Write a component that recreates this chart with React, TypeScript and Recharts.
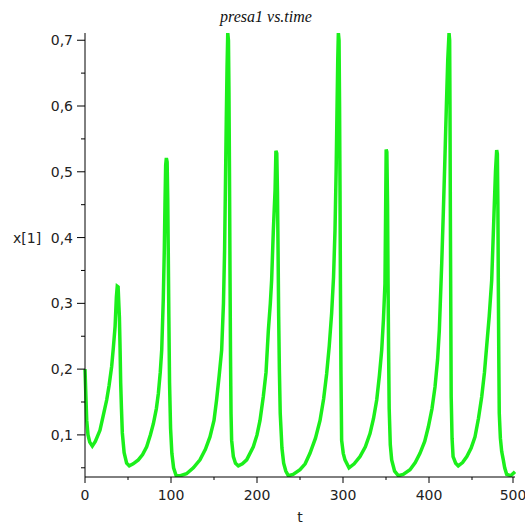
import { LineChart, Line, XAxis, YAxis } from 'recharts';

// time samples (t) and prey values x[1]
const time = [
  0, 1, 2, 3.5, 5.5, 8.5, 12, 17.4, 21, 25.2, 28, 31, 33, 35, 36.5, 37.5, 38.5, 39.3, 40, 40.8,
  41.5, 42.4, 43.4, 45.5, 48.4, 51.5,
  56, 62, 67, 71.7, 76, 79.5, 83, 85.3, 87.5, 89.2, 91, 92.2, 93, 93.8, 94.6, 95.5, 96.2, 96.8,
  97.5, 98.3, 99.5, 101, 103, 106,
  111, 118, 126, 133.7, 140, 145.3, 150, 153, 156, 158.9, 161, 162.3, 163.3, 164.3, 165.2, 166,
  166.8, 167.4, 168, 168.6, 169.2, 169.8, 170.5, 172.5, 175, 178.3,
  183, 188, 195.7, 200, 203.5, 207.3, 210.5, 213.2, 215.5, 217, 219, 221, 222, 223, 223.8, 224.5,
  225.2, 226, 227, 229, 231, 233.5, 236.4,
  242, 250, 256, 261.6, 268, 273.3, 277.5, 281, 284, 286.8, 289, 290.7, 292, 293, 293.9, 294.6,
  295.4, 296, 296.5, 297, 297.6, 298.4, 300.3, 302.3, 307,
  313, 319.8, 326, 331.4, 335.5, 339.2, 342.3, 345, 347, 348.8, 349.5, 350.2, 351, 351.8, 352.4,
  353, 353.7, 355, 356.6, 360, 364.3,
  370, 377.9, 384, 389.5, 395, 399.2, 403.5, 407, 410, 412, 414.8, 416.7, 418.5, 420.2, 421.8,
  423.3, 424, 424.4, 424.8, 425.3, 425.8, 426.8, 428, 431, 434,
  439, 444, 449, 453.5, 457.5, 461.3, 464.5, 467, 470, 472.9, 475.6, 477.3, 478.7, 479.5, 480.1,
  480.6, 481.2, 481.7, 483, 484.5, 486.4, 488, 490.3, 495, 500,
];

const presa = [
  0.2, 0.16, 0.122, 0.1, 0.089, 0.083, 0.09, 0.107, 0.128, 0.153, 0.175, 0.204, 0.233, 0.265,
  0.31, 0.326, 0.325, 0.3, 0.279, 0.23, 0.179, 0.14, 0.103, 0.073, 0.057, 0.053,
  0.056, 0.062, 0.07, 0.082, 0.1, 0.117, 0.14, 0.163, 0.195, 0.229, 0.305, 0.38, 0.45, 0.51,
  0.521, 0.515, 0.46, 0.38, 0.28, 0.18, 0.11, 0.072, 0.05, 0.038,
  0.038, 0.041, 0.05, 0.062, 0.078, 0.097, 0.122, 0.153, 0.19, 0.229, 0.3, 0.38, 0.48, 0.58,
  0.66, 0.711, 0.7, 0.62, 0.5, 0.35, 0.22, 0.133, 0.092, 0.067, 0.057, 0.053,
  0.056, 0.062, 0.082, 0.1, 0.122, 0.158, 0.195, 0.259, 0.3, 0.335, 0.411, 0.472, 0.532, 0.528,
  0.47, 0.38, 0.28, 0.2, 0.133, 0.08, 0.057, 0.045, 0.038,
  0.04, 0.047, 0.056, 0.072, 0.095, 0.122, 0.155, 0.193, 0.235, 0.285, 0.34, 0.411, 0.5, 0.59,
  0.67, 0.711, 0.7, 0.6, 0.48, 0.33, 0.2, 0.092, 0.072, 0.062, 0.05,
  0.056, 0.067, 0.082, 0.102, 0.125, 0.153, 0.19, 0.229, 0.275, 0.33, 0.43, 0.534, 0.53, 0.45,
  0.33, 0.23, 0.14, 0.085, 0.062, 0.045, 0.038,
  0.04, 0.047, 0.058, 0.072, 0.09, 0.112, 0.14, 0.173, 0.215, 0.259, 0.361, 0.44, 0.52, 0.6,
  0.67, 0.711, 0.7, 0.6, 0.45, 0.3, 0.158, 0.095, 0.067, 0.057, 0.053,
  0.058, 0.067, 0.08, 0.097, 0.125, 0.158, 0.195, 0.234, 0.28, 0.335, 0.437, 0.5, 0.533, 0.527,
  0.45, 0.33, 0.21, 0.133, 0.095, 0.075, 0.062, 0.05, 0.04, 0.038, 0.044,
];

const xTicks = [0, 50, 100, 150, 200, 250, 300, 350, 400, 450, 500];
const xLabeled = [0, 100, 200, 300, 400, 500];
const yTicks = [0.05, 0.1, 0.15, 0.2, 0.25, 0.3, 0.35, 0.4, 0.45, 0.5, 0.55, 0.6, 0.65, 0.7];
const yLabeled = [0.1, 0.2, 0.3, 0.4, 0.5, 0.6, 0.7];

const data = time.map((t, i) => ({ t, v: presa[i] }));

const tickFont = { fontFamily: 'DejaVu Sans', fontSize: 14, fill: '#222' };

const fmt = (v: number) => v.toFixed(1).replace('.', ',');

function YTick(props: any) {
  const { x, y, payload } = props;
  const major = yLabeled.includes(payload.value);
  return (
    <g>
      <line x1={x} x2={x - (major ? 8 : 4)} y1={y} y2={y} stroke="#000" />
      {major && (
        <text x={x - 12} y={y} dy={5} textAnchor="end" {...tickFont}>
          {fmt(payload.value)}
        </text>
      )}
    </g>
  );
}

function XTick(props: any) {
  const { x, y, payload } = props;
  const major = xLabeled.includes(payload.value);
  return (
    <g>
      <line x1={x} x2={x} y1={y} y2={y + (major ? 6 : 3)} stroke="#000" />
      {major && (
        <text x={x} y={y + 23} textAnchor="middle" {...tickFont}>
          {payload.value}
        </text>
      )}
    </g>
  );
}

export default function App() {
  return (
    <div style={{ position: 'absolute', left: 0, top: 0, background: '#fff' }}>
      <LineChart
        width={525}
        height={527}
        data={data}
        margin={{ top: 33, right: 10, bottom: 0, left: 0 }}
      >
        <text
          x={266}
          y={22}
          textAnchor="middle"
          fontFamily="Liberation Serif"
          fontStyle="italic"
          fontSize={16}
          fill="#111"
        >
          presa1 vs.time
        </text>
        <XAxis
          dataKey="t"
          type="number"
          domain={[0, 500]}
          ticks={xTicks}
          tickSize={0}
          tickMargin={0}
          tick={<XTick />}
          tickLine={false}
          axisLine={{ stroke: '#000' }}
          height={50}
          label={{ value: 't', position: 'insideBottom', offset: 5, ...tickFont }}
        />
        <YAxis
          type="number"
          domain={[0.036, 0.711]}
          allowDataOverflow
          ticks={yTicks}
          tickSize={0}
          tickMargin={0}
          tick={<YTick />}
          tickLine={false}
          axisLine={{ stroke: '#000' }}
          width={85}
          label={{ value: 'x[1]', position: 'insideLeft', offset: 13, dy: -17, ...tickFont }}
        />
        <Line
          type="linear"
          dataKey="v"
          stroke="#1bef1b"
          strokeWidth={3.5}
          dot={false}
          isAnimationActive={false}
        />
      </LineChart>
    </div>
  );
}
